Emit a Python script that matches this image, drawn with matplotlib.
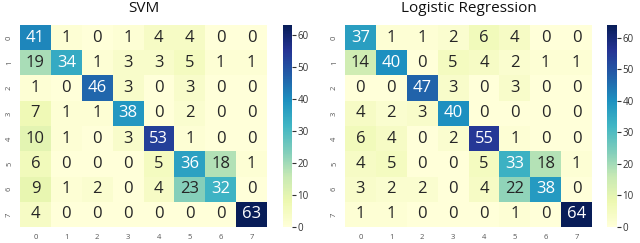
import numpy as np
import matplotlib
matplotlib.use("Agg")
import matplotlib.pyplot as plt
import seaborn as sns

labels = ["0", "1", "2", "3", "4", "5", "6", "7"]
svm = np.array([
    [41, 1, 0, 1, 4, 4, 0, 0],
    [19, 34, 1, 3, 3, 5, 1, 1],
    [1, 0, 46, 3, 0, 3, 0, 0],
    [7, 1, 1, 38, 0, 2, 0, 0],
    [10, 1, 0, 3, 53, 1, 0, 0],
    [6, 0, 0, 0, 5, 36, 18, 1],
    [9, 1, 2, 0, 4, 23, 32, 0],
    [4, 0, 0, 0, 0, 0, 0, 63],
])
logreg = np.array([
    [37, 1, 1, 2, 6, 4, 0, 0],
    [14, 40, 0, 5, 4, 2, 1, 1],
    [0, 0, 47, 3, 0, 3, 0, 0],
    [4, 2, 3, 40, 0, 0, 0, 0],
    [6, 4, 0, 2, 55, 1, 0, 0],
    [4, 5, 0, 0, 5, 33, 18, 1],
    [3, 2, 2, 0, 4, 22, 38, 0],
    [1, 1, 0, 0, 0, 1, 0, 64],
])
titles = ["SVM", "Logistic Regression"]

plt.rcParams["font.family"] = ["Open Sans", "DejaVu Sans"]
fig = plt.figure(figsize=(6.4, 2.43), dpi=100)
W, H = 640, 243
specs = [
    (20, 267, 283, 292),
    (345, 592, 607, 617),
]
top, bottom = 25, 227
for mat, title, (x0, x1, c0, c1) in zip([svm, logreg], titles, specs):
    ax = fig.add_axes([x0 / W, 1 - bottom / H, (x1 - x0) / W, (bottom - top) / H])
    cax = fig.add_axes([c0 / W, 1 - bottom / H, (c1 - c0) / W, (bottom - top) / H])
    sns.heatmap(mat, ax=ax, cbar_ax=cax, cmap="YlGnBu", annot=True, fmt="d",
                annot_kws={"fontsize": 12}, xticklabels=labels, yticklabels=labels,
                vmin=0, vmax=mat.max())
    ax.set_title(title, fontsize=11, pad=9, color="#111111")
    ax.tick_params(axis="both", labelsize=5.5, colors="#555555", length=0, pad=5)
    ax.tick_params(axis="x", labelrotation=0)
    ax.tick_params(axis="y", labelrotation=90)
    for lab in ax.get_yticklabels():
        lab.set_va("center")
    cax.tick_params(labelsize=7, colors="#333333", length=3, width=0.8, pad=1)
    cax.set_yticks([0, 10, 20, 30, 40, 50, 60])
    for s in cax.spines.values():
        s.set_visible(False)

fig.savefig("out.png", dpi=100)
